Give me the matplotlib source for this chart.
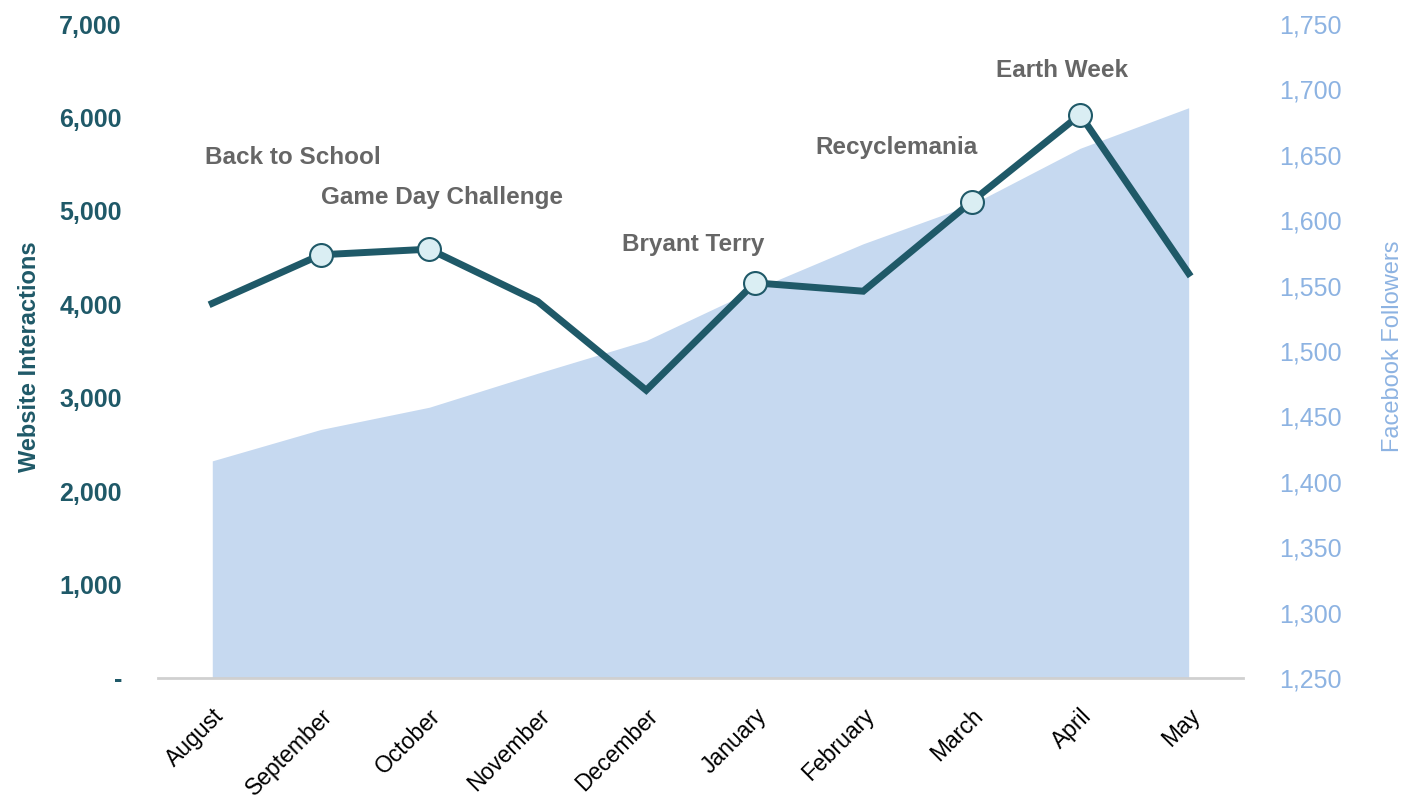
import matplotlib
matplotlib.use("Agg")
import matplotlib.pyplot as plt
import matplotlib.ticker as mticker

# Monthly data
months = ["August", "September", "October", "November", "December",
          "January", "February", "March", "April", "May"]
interactions = [4010, 4530, 4590, 4030, 3080, 4230, 4140, 5100, 6030, 4330]
followers = [1416, 1440, 1457, 1483, 1508, 1547, 1582, 1612, 1655, 1686]

events = ["Back to School", "Game Day Challenge", "Bryant Terry", "Recyclemania", "Earth Week"]
event_months = [1, 2, 5, 7, 8]

TEAL = "#1f5968"
LIGHTBLUE = "#8db3e2"
AREA = "#c6d9f0"
SANS = ["Liberation Sans", "DejaVu Sans"]
plt.rcParams["font.family"] = SANS

fig = plt.figure(figsize=(14.06, 8.01), dpi=100)
ax = fig.add_axes([0.1124, 0.1536, 0.7716, 0.8164])
ax2 = ax.twinx()
ax.set_zorder(ax2.get_zorder() + 1)
ax.patch.set_visible(False)

x = list(range(len(months)))

# Facebook followers as an area on the right axis
ax2.fill_between(x, 1250, followers, color=AREA, linewidth=0)
ax2.set_ylim(1250, 1750)
ax2.yaxis.set_major_locator(mticker.MultipleLocator(50))
ax2.yaxis.set_major_formatter(mticker.StrMethodFormatter("{x:,.0f}"))

# Website interactions as a line on the left axis
ax.plot(x, interactions, color=TEAL, linewidth=5, solid_joinstyle="miter", zorder=3)
ax.plot(event_months, [interactions[i] for i in event_months], linestyle="none",
        marker="o", markersize=16.5, markerfacecolor="#daeef3",
        markeredgecolor=TEAL, markeredgewidth=1.5, zorder=4)
ax.set_ylim(0, 7000)
ax.set_xlim(-0.5, len(months) - 0.5)
ax.yaxis.set_major_locator(mticker.MultipleLocator(1000))
ax.yaxis.set_major_formatter(mticker.FuncFormatter(lambda v, p: "-" if v == 0 else f"{v:,.0f}"))

# Event labels
label_pos = [(0.74, 5576), (2.12, 5148), (4.43, 4645), (6.31, 5683), (7.83, 6507)]
for name, (lx, ly) in zip(events, label_pos):
    ax.text(lx, ly, name, ha="center", va="center", fontsize=17.5, fontweight="bold",
            color="#666666")

for a in (ax, ax2):
    for s in a.spines.values():
        s.set_visible(False)
    a.tick_params(length=0)
ax.axhline(0, color="#d0d0d0", linewidth=2, zorder=1, clip_on=False)

ax.set_xticks(x)
ax.set_xticklabels(months, rotation=45, ha="right", rotation_mode="anchor",
                   fontsize=16.5, color="black")
ax.tick_params(axis="x", pad=19)
for t in ax.get_yticklabels():
    t.set_fontweight("bold")
    t.set_fontsize(18)
    t.set_color(TEAL)
ax.tick_params(axis="y", pad=26)
for t in ax2.get_yticklabels():
    t.set_fontsize(18)
    t.set_color(LIGHTBLUE)
ax2.tick_params(axis="y", pad=26)

ax.set_ylabel("Website Interactions", fontsize=17, fontweight="bold", color=TEAL)
ax.yaxis.set_label_coords(-0.108, 0.491)
ax2.set_ylabel("Facebook Followers", fontsize=17, color=LIGHTBLUE)
ax2.yaxis.set_label_coords(1.128, 0.508)

fig.savefig("out.png", dpi=100)
